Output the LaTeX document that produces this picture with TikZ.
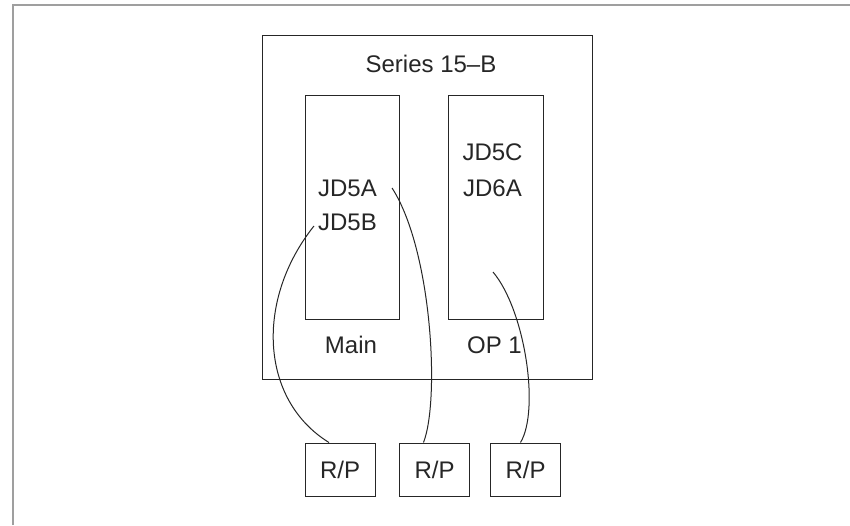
\documentclass[tikz,border=0pt]{standalone}
\usepackage{fontspec}
\setmainfont{Liberation Sans}
\begin{document}
\begin{tikzpicture}[x=1pt,y=-1pt,
  box/.style={draw=black!85,line width=1pt,inner sep=0pt},
  lbl/.style={inner sep=0pt,text=black!85,font=\fontsize{24}{28}\selectfont},
  cable/.style={draw=black!85,line width=1pt}]

% Frame
\useasboundingbox (0,0) rectangle (850,525);
\draw[gray!75,line width=2.5pt] (13,525) -- (13,5) -- (850,5);

% Series 15-B unit and its two boards
\node[box,minimum width=330pt,minimum height=344pt] (series) at (427,207) {};
\node[lbl] (title) at (431,64) {Series 15--B};
\node[box,minimum width=94pt,minimum height=224pt] (main) at (352,207) {};
\node[box,minimum width=95pt,minimum height=224pt] (op1) at (495.5,207) {};

% Board names
\node[lbl] (mainlbl) at (351,345) {Main};
\node[lbl] (oplbl) at (494.5,345) {OP 1};

% Connectors
\node[lbl] (jd5a) at (347.5,188) {JD5A};
\node[lbl] (jd5b) at (347.5,222) {JD5B};
\node[lbl] (jd5c) at (492.5,152) {JD5C};
\node[lbl] (jd6a) at (492.5,188) {JD6A};
\coordinate (opend) at (493,272);

% R/P units
\foreach \n/\x in {1/340,2/434.5,3/525.5}{
    \node[box,lbl,minimum width=70pt,minimum height=53pt] (rp\n) at (\x,469.5) {R/P};
}

% Cables
\draw[cable] ([shift={(-4,4)}]jd5b.west) .. controls (255,300) and (260,400) .. ([xshift=-11]rp1.north);
\draw[cable] ([shift={(15,0)}]jd5a.east) .. controls (432,250) and (440,400) .. ([xshift=-11]rp2.north);
\draw[cable] (opend) .. controls (525,310) and (540,410) .. ([xshift=-5]rp3.north);

\end{tikzpicture}
\end{document}
